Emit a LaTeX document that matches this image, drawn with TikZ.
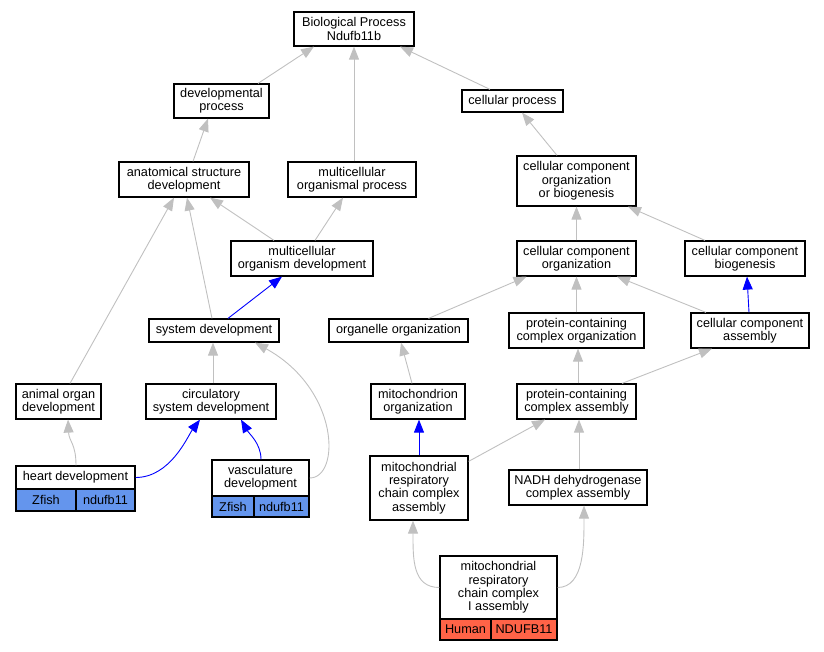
\documentclass[tikz,border=0pt]{standalone}
\usepackage{fontspec}
\setmainfont{Liberation Sans}
\usetikzlibrary{arrows.meta}
\definecolor{edgegray}{HTML}{C0C0C0}
\definecolor{zfish}{HTML}{6495ED}
\definecolor{human}{HTML}{FF6347}
\tikzset{
  box/.style={draw=black, fill=white, line width=1.2pt, inner sep=0pt, align=center,
    font=\fontsize{12.7}{13.4}\selectfont},
  isa/.style={draw=edgegray, line width=0.9pt, -{Triangle[length=13pt,width=10pt,fill=edgegray]}},
  partof/.style={draw=blue, line width=0.9pt, -{Triangle[length=13pt,width=10pt,fill=blue]}},
}
\newcommand\bx[7][]{\node[box,#1, minimum width={(#5-#3)*1pt}, minimum height={(#6-#4)*1pt}] (#2) at ({(#3+#5)/2},{(#4+#6)/2}) {#7};}
\begin{document}
\begin{tikzpicture}[x=1pt,y=-1pt]
\useasboundingbox (0,0) rectangle (824,651);
% nodes
\bx{BP}{294}{12}{414}{46}{Biological Process\\Ndufb11b}
\bx{devproc}{174}{84}{269}{118}{developmental\\process}
\bx{cellproc}{462}{90}{563}{112}{cellular process}
\bx{asd}{119}{162}{249}{197}{anatomical structure\\development}
\bx{mop}{288}{162}{416}{197}{multicellular\\organismal process}
\bx{ccob}{517}{156}{636}{206}{cellular component\\organization\\or biogenesis}
\bx{mod}{231}{241}{373}{276}{multicellular\\organism development}
\bx{cco}{517}{241}{636}{276}{cellular component\\organization}
\bx{ccb}{685}{241}{805}{276}{cellular component\\biogenesis}
\bx{sysdev}{149}{319}{279}{342}{system development}
\bx{orgorg}{329}{319}{468}{342}{organelle organization}
\bx{pcco}{509}{313}{644}{348}{protein-containing\\complex organization}
\bx{cca}{691}{313}{809}{348}{cellular component\\assembly}
\bx{aod}{16}{384}{101}{419}{animal organ\\development}
\bx{csd}{146}{384}{276}{419}{circulatory\\system development}
\bx{mito}{371}{384}{465}{419}{mitochondrion\\organization}
\bx{pcca}{517}{384}{636}{419}{protein-containing\\complex assembly}
\bx{heart}{16}{466}{135}{489}{heart development}
\bx[fill=zfish]{heartA}{16}{489}{76}{511}{Zfish}
\bx[fill=zfish]{heartB}{76}{489}{135}{511}{ndufb11}
\bx{vasc}{212}{460}{309}{496}{vasculature\\development}
\bx[fill=zfish]{vascA}{212}{496}{254}{517}{Zfish}
\bx[fill=zfish]{vascB}{254}{496}{309}{517}{ndufb11}
\bx{mrcca}{370}{456}{468}{520}{mitochondrial\\respiratory\\chain complex\\assembly}
\bx{nadh}{509}{470}{647}{505}{NADH dehydrogenase\\complex assembly}
\bx{cI}{440}{556}{557}{619}{mitochondrial\\respiratory\\chain complex\\I assembly}
\bx[fill=human]{cIA}{440}{619}{491}{640}{Human}
\bx[fill=human]{cIB}{491}{619}{557}{640}{NDUFB11}
% edges
\draw[isa] ([xshift=36.5pt]devproc.north) -- ([xshift=-40pt]BP.south);
\draw[isa] ([xshift=2pt]mop.north) -- (BP.south);
\draw[isa] ([xshift=-22.5pt]cellproc.north) -- ([xshift=46pt]BP.south);
\draw[isa] ([xshift=9pt]asd.north) -- ([xshift=-13.5pt]devproc.south);
\draw[isa] ([xshift=-28pt]mod.north) -- ([xshift=26pt]asd.south);
\draw[isa] ([xshift=13pt]mod.north) -- ([xshift=-9pt]mop.south);
\draw[isa] ([xshift=-19.5pt]ccob.north) -- ([xshift=9.5pt]cellproc.south);
\draw[isa] (cco.north) -- (ccob.south);
\draw[isa] ([xshift=-40pt]ccb.north) -- ([xshift=51.5pt]ccob.south);
\draw[partof] ([xshift=14pt]sysdev.north) -- ([xshift=-20pt]mod.south);
\draw[isa] ([xshift=-2pt]sysdev.north) -- ([xshift=3pt]asd.south);
\draw[isa] ([xshift=11.5pt]aod.north) -- ([xshift=-10pt]asd.south);
\draw[isa] ([xshift=30pt]orgorg.north) -- ([xshift=-50pt]cco.south);
\draw[isa] (pcco.north) -- (cco.south);
\draw[isa] ([xshift=-44pt]cca.north) -- ([xshift=40.5pt]cco.south);
\draw[partof] ([xshift=-1pt]cca.north) -- ([xshift=2pt]ccb.south);
\draw[isa] ([xshift=2pt]csd.north) -- ([xshift=-1pt]sysdev.south);
\draw[isa] ([xshift=-6pt]mito.north) -- ([xshift=2.5pt]orgorg.south);
\draw[isa] ([xshift=1.5pt]pcca.north) -- ([xshift=1.5pt]pcco.south);
\draw[isa] ([xshift=45.5pt]pcca.north) -- ([xshift=-38pt]cca.south);
\draw[isa] ([xshift=0.5pt]heart.north) .. controls +(0,-22) and +(1,22) .. ([xshift=9.5pt]aod.south);
\draw[partof] (heart.east) .. controls +(35,0) and +(-12,16) .. ([xshift=-11pt]csd.south);
\draw[partof] ([xshift=0.5pt]vasc.north) .. controls +(0,-16) and +(8,14) .. ([xshift=30pt]csd.south);
\draw[isa] (vasc.east) .. controls +(31,0) and +(85,47) .. ([xshift=41pt]sysdev.south);
\draw[partof] (mrcca.north) -- ([xshift=1pt]mito.south);
\draw[isa] ([yshift=-6pt]mrcca.north east) -- ([xshift=-31.5pt]pcca.south);
\draw[isa] ([xshift=1pt]nadh.north) -- ([xshift=2.5pt]pcca.south);
\draw[isa] (cI.west) .. controls +(-27,0) and +(0,38) .. ([xshift=-6pt]mrcca.south);
\draw[isa] (cI.east) .. controls +(27,0) and +(0,38) .. ([xshift=6pt]nadh.south);
\end{tikzpicture}
\end{document}
